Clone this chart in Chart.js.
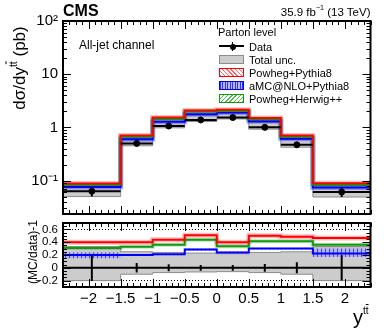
<!DOCTYPE html>
<html>
<head>
<meta charset="utf-8">
<script src="https://cdn.jsdelivr.net/npm/chart.js@4.4.1/dist/chart.umd.min.js"></script>
<style>
  html, body { margin: 0; padding: 0; background: #fff; }
  #wrap { position: relative; width: 390px; height: 331px; overflow: hidden;
          font-family: "Liberation Sans", Arial, sans-serif; color: #000; }
  canvas { position: absolute; left: 0; }
  .t { position: absolute; white-space: nowrap; line-height: 1; }
  .t sup { font-size: 0.62em; vertical-align: baseline; position: relative; top: -0.75em; line-height: 0; }
  .ol { text-decoration: overline; }
  .rot { transform: translate(-50%, -50%) rotate(-90deg); }
  .box { position: absolute; left: 219px; width: 25px; height: 9px; box-sizing: border-box; }
</style>
</head>
<body>
<div id="wrap">
  <canvas id="top" width="390" height="219" style="top:0"></canvas>
  <canvas id="ratio" width="390" height="112" style="top:219px"></canvas>

  <div class="t" style="left:63px;top:3px;font-size:16px;font-weight:bold;">CMS</div>
  <div class="t" style="right:19.5px;top:6.5px;font-size:11.5px;">35.9 fb<sup>−1</sup> (13 TeV)</div>
  <div class="t" style="left:79px;top:38.5px;font-size:12px;">All-jet channel</div>

  <div class="t" style="left:218px;top:27px;font-size:11px;">Parton level</div>
  <div style="position:absolute;left:219px;top:45px;width:25px;height:2px;background:#000;"></div>
  <div style="position:absolute;left:231.5px;top:41.5px;width:1.5px;height:9px;background:#000;"></div>
  <div style="position:absolute;left:229.5px;top:43.5px;width:6px;height:6px;border-radius:50%;background:#000;"></div>
  <div class="box" style="top:55px;background:#cccccc;border:1px solid #8c8c8c;"></div>
  <div class="box" style="top:68px;border:1.5px solid #ff0000;background:repeating-linear-gradient(45deg,#ff6666 0 1px,#fff 1px 3px);"></div>
  <div class="box" style="top:81px;border:1.5px solid #0000ff;background:repeating-linear-gradient(90deg,#3333ff 0 1px,#b8b8ff 1px 2.5px);"></div>
  <div class="box" style="top:94px;border:1.5px solid #119911;background:repeating-linear-gradient(-45deg,#55bb55 0 1px,#fff 1px 3px);"></div>
  <div class="t" style="left:249px;top:41.5px;font-size:11px;">Data</div>
  <div class="t" style="left:249px;top:55px;font-size:11px;">Total unc.</div>
  <div class="t" style="left:249px;top:68px;font-size:11px;">Powheg+Pythia8</div>
  <div class="t" style="left:249px;top:81px;font-size:11px;">aMC@NLO+Pythia8</div>
  <div class="t" style="left:249px;top:93.5px;font-size:11px;">Powheg+Herwig++</div>

  <div class="t rot" style="left:19px;top:68px;font-size:17px;">dσ/dy<sup>t<span class="ol">t</span></sup> (pb)</div>
  <div class="t rot" style="left:33px;top:252px;font-size:12px;">(MC/data)-1</div>
  <div class="t" style="left:353px;top:307px;font-size:20px;">y<sup style="font-size:0.5em;top:-1.05em;">t<span class="ol">t</span></sup></div>
</div>

<script>
// bins in y(tt)
const binEdges = [-2.4, -1.5, -1.0, -0.5, 0.0, 0.5, 1.0, 1.5, 2.4];
const binCenters = [-1.95, -1.25, -0.75, -0.25, 0.25, 0.75, 1.25, 1.95];

// upper panel (pb)
const dataXsec = [0.063, 0.50, 1.06, 1.38, 1.53, 1.00, 0.47, 0.061];
const dataErrLo = [0.050, 0.46, 1.00, 1.32, 1.46, 0.94, 0.43, 0.049];
const dataErrHi = [0.076, 0.54, 1.12, 1.44, 1.60, 1.06, 0.51, 0.073];
const totUncLo = [0.050, 0.45, 0.98, 1.29, 1.44, 0.925, 0.423, 0.049];
const totUncHi = [0.084, 0.625, 1.31, 1.70, 1.87, 1.24, 0.59, 0.081];
const powhegPythia = [0.088, 0.70, 1.53, 2.08, 2.14, 1.50, 0.70, 0.089];
const amcPythia = [0.076, 0.60, 1.28, 1.77, 1.90, 1.30, 0.61, 0.074];
const powhegHerwig = [0.083, 0.665, 1.44, 1.99, 2.04, 1.42, 0.665, 0.083];

// lower panel, (MC/data)-1
const ratioData = [0, 0, 0, 0, 0, 0, 0, 0];
const ratioDataErr = [0.205, 0.075, 0.055, 0.045, 0.045, 0.06, 0.085, 0.2];
const ratioTotLo = [-0.20, -0.10, -0.075, -0.065, -0.06, -0.075, -0.10, -0.20];
const ratioTotHi = [0.33, 0.25, 0.24, 0.23, 0.22, 0.24, 0.25, 0.33];
const ratioPowhegPythia = [0.40, 0.40, 0.44, 0.51, 0.40, 0.50, 0.485, 0.465];
const ratioAmcPythia = [0.20, 0.20, 0.21, 0.285, 0.24, 0.30, 0.30, 0.225];
const ratioAmcLo = [0.15, 0.185, 0.195, 0.27, 0.225, 0.285, 0.285, 0.17];
const ratioAmcHi = [0.24, 0.215, 0.225, 0.30, 0.255, 0.315, 0.315, 0.30];
const ratioPowhegHerwig = [0.31, 0.33, 0.36, 0.44, 0.335, 0.415, 0.415, 0.36];

// tick labels
const xTickValues = [-2, -1.5, -1, -0.5, 0, 0.5, 1, 1.5, 2];
const xTickLabels = ['−2', '−1.5', '−1', '−0.5', '0', '0.5', '1', '1.5', '2'];
const yTickValues = [0.1, 1, 10, 100];
const yTickLabels = ['10⁻¹', '1', '10', '10²'];
const ratioTickValues = [-0.2, 0, 0.2, 0.4, 0.6];
const ratioTickLabels = ['−0.2', '0', '0.2', '0.4', '0.6'];

Chart.defaults.font.family = '"Liberation Sans", Arial, sans-serif';
Chart.defaults.color = '#000';

const RED = '#ff0000', BLUE = '#0000ff', GREEN = '#119911';

// histogram helpers
function stepPts(vals) {
    return binEdges.map((e, i) => ({ x: e, y: vals[Math.min(i, vals.length - 1)] }));
}
function binPts(vals) {
    return vals.flatMap((v, i) => [{ x: binEdges[i], y: v }, { x: binEdges[i + 1], y: v }, { x: binEdges[i + 1], y: null }]);
}
function errPts(lo, hi) {
    return binCenters.flatMap((c, i) => [{ x: c, y: lo[i] }, { x: c, y: hi[i] }, { x: c, y: null }]);
}
function hist(vals, color, width, order, extra) {
    return Object.assign({ data: stepPts(vals), stepped: true, borderColor: color, borderWidth: width,
        pointRadius: 0, fill: false, order: order }, extra || {});
}

// ticks inside the frame, ROOT style
const xMinor = [];
for (let k = -24; k <= 24; k++) xMinor.push(k / 10);
const logMinor = [];
[0.01, 0.1, 1, 10].forEach(d => { for (let m = 2; m <= 9; m++) if (m * d > 0.0235 && m * d < 100) logMinor.push(m * d); });
const ratioMinor = [];
for (let k = -6; k <= 14; k++) ratioMinor.push(k * 0.05);

const framePlugin = {
    id: 'frame',
    afterDraw(chart, args, opts) {
        const { ctx, chartArea: a, scales } = chart;
        ctx.save();
        ctx.strokeStyle = '#000';
        ctx.lineWidth = 1;
        ctx.beginPath();
        const xt = (vals, len) => vals.forEach(v => {
            const px = Math.round(scales.x.getPixelForValue(v)) + 0.5;
            ctx.moveTo(px, a.bottom); ctx.lineTo(px, a.bottom - len);
            ctx.moveTo(px, a.top); ctx.lineTo(px, a.top + len);
        });
        const yt = (vals, len) => vals.forEach(v => {
            const py = Math.round(scales.y.getPixelForValue(v)) + 0.5;
            ctx.moveTo(a.left, py); ctx.lineTo(a.left + len, py);
            ctx.moveTo(a.right, py); ctx.lineTo(a.right - len, py);
        });
        xt(xMinor, 4); xt(xTickValues, 8);
        yt(opts.yMinor, 4); yt(opts.yMajor, 8);
        ctx.stroke();
        ctx.lineWidth = 2;
        ctx.strokeRect(a.left, a.top, a.right - a.left, a.bottom - a.top);
        ctx.restore();
    }
};

function hatch(ctx, color, bg, kind) {
    const c = document.createElement('canvas');
    c.width = 4; c.height = 4;
    const g = c.getContext('2d');
    if (bg) { g.fillStyle = bg; g.fillRect(0, 0, 4, 4); }
    g.strokeStyle = color; g.lineWidth = 1;
    g.beginPath();
    if (kind === 'v') { g.moveTo(1.5, 0); g.lineTo(1.5, 4); }
    else { g.moveTo(0, 0); g.lineTo(4, 4); }
    g.stroke();
    return ctx.createPattern(c, 'repeat');
}

// fixed frame: axis width and no extra label padding
function fixY(s) { s.width = 63; s.paddingTop = 0; s.paddingBottom = 0; }

const baseOptions = {
    responsive: false,
    animation: false,
    devicePixelRatio: 1,
    events: [],
    plugins: { legend: { display: false }, tooltip: { enabled: false }, filler: { drawTime: 'beforeDatasetsDraw' } }
};

// upper panel
new Chart(document.getElementById('top').getContext('2d'), {
    type: 'line',
    data: {
        datasets: [
            hist(totUncHi, '#8c8c8c', 1, 20),
            hist(totUncLo, '#8c8c8c', 1, 19, { fill: '-1', backgroundColor: '#cccccc' }),
            hist(powhegPythia, 'rgba(255,0,0,0.25)', 5, 15),
            hist(amcPythia, 'rgba(0,0,255,0.3)', 5, 14),
            hist(powhegHerwig, 'rgba(17,153,17,0.25)', 5, 13),
            hist(amcPythia, BLUE, 2, 8),
            hist(powhegHerwig, GREEN, 2, 7),
            hist(powhegPythia, RED, 2, 6),
            { data: binPts(dataXsec), borderColor: '#000', borderWidth: 2, pointRadius: 0, spanGaps: false, order: 3 },
            { data: errPts(dataErrLo, dataErrHi), borderColor: '#000', borderWidth: 2, pointRadius: 0, spanGaps: false, order: 2 },
            { data: binCenters.map((c, i) => ({ x: c, y: dataXsec[i] })), showLine: false, pointRadius: 3,
              pointBackgroundColor: '#000', pointBorderColor: '#000', order: 1 }
        ]
    },
    plugins: [framePlugin],
    options: Object.assign({}, baseOptions, {
        layout: { padding: { left: 0, right: 19.5, top: 21, bottom: 4 } },
        plugins: Object.assign({}, baseOptions.plugins, { frame: { yMajor: yTickValues, yMinor: logMinor } }),
        scales: {
            x: { type: 'linear', min: -2.4, max: 2.4, display: false },
            y: {
                type: 'logarithmic', min: 0.0235, max: 100,
                afterFit: fixY,
                afterBuildTicks: s => { s.ticks = yTickValues.map(v => ({ value: v })); },
                grid: { display: false, drawTicks: false },
                border: { display: false },
                ticks: { autoSkip: false, padding: 5, font: { size: 15 },
                         callback: v => yTickLabels[yTickValues.indexOf(v)] }
            }
        }
    })
});

// ratio panel
const rctx = document.getElementById('ratio').getContext('2d');
new Chart(rctx, {
    type: 'line',
    data: {
        datasets: [
            hist(ratioTotHi, '#8c8c8c', 1, 20),
            hist(ratioTotLo, '#8c8c8c', 1, 19, { fill: '-1', backgroundColor: '#cccccc' }),
            hist(ratioAmcHi, 'rgba(0,0,0,0)', 0, 18),
            hist(ratioAmcLo, 'rgba(0,0,0,0)', 0, 17, { fill: '-1', backgroundColor: hatch(rctx, 'rgba(40,40,255,0.8)', 'rgba(150,150,255,0.45)', 'v') }),
            hist(ratioPowhegPythia, 'rgba(255,0,0,0.25)', 5, 15),
            hist(ratioPowhegHerwig, 'rgba(17,153,17,0.25)', 4, 13),
            hist(ratioAmcPythia, BLUE, 2, 8),
            hist(ratioPowhegHerwig, GREEN, 2, 7),
            hist(ratioPowhegPythia, RED, 2, 6),
            hist(ratioData, '#000', 2, 3),
            { data: errPts(ratioDataErr.map(e => -e), ratioDataErr), borderColor: '#000', borderWidth: 2,
              pointRadius: 0, spanGaps: false, order: 2 }
        ]
    },
    plugins: [framePlugin],
    options: Object.assign({}, baseOptions, {
        layout: { padding: { left: 0, right: 19.5, top: 4, bottom: 0 } },
        plugins: Object.assign({}, baseOptions.plugins, { frame: { yMajor: ratioTickValues, yMinor: ratioMinor } }),
        scales: {
            x: {
                type: 'linear', min: -2.4, max: 2.4,
                afterFit: s => { s.height = 44; s.paddingLeft = 0; s.paddingRight = 0; },
                afterBuildTicks: s => { s.ticks = xTickValues.map(v => ({ value: v })); },
                grid: { display: false, drawTicks: false },
                border: { display: false },
                ticks: { autoSkip: false, maxRotation: 0, padding: 3, font: { size: 15 },
                         callback: v => xTickLabels[xTickValues.indexOf(v)] }
            },
            y: {
                type: 'linear', min: -0.3, max: 0.7,
                afterFit: fixY,
                afterBuildTicks: s => { s.ticks = ratioTickValues.map(v => ({ value: v })); },
                grid: { drawTicks: false, lineWidth: 1,
                        color: c => (c.tick && (c.tick.value === 0.6 || c.tick.value === -0.2)) ? '#000' : 'rgba(0,0,0,0)' },
                border: { display: false, dash: [1, 2] },
                ticks: { autoSkip: false, padding: 5, font: { size: 11.5 },
                         callback: v => ratioTickLabels[ratioTickValues.indexOf(v)] }
            }
        }
    })
});
</script>
</body>
</html>
